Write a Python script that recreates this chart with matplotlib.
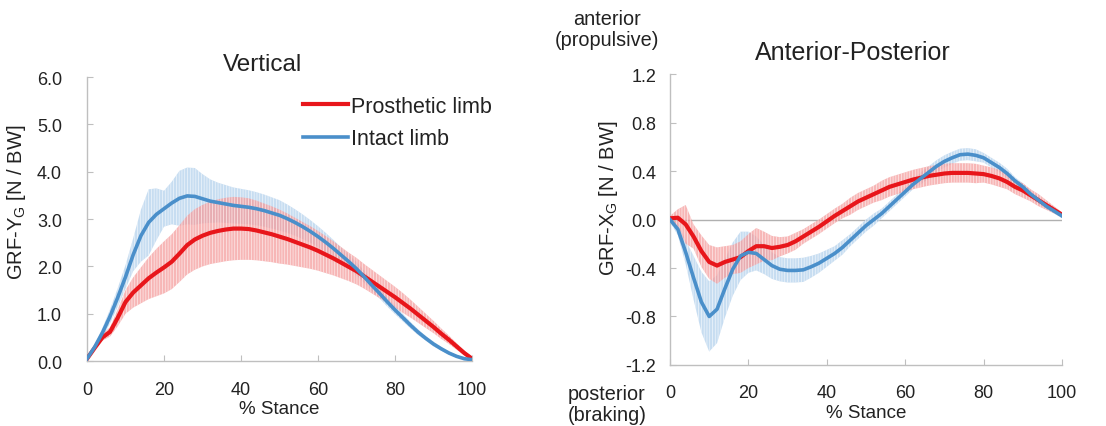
import numpy as np
import matplotlib
matplotlib.use("Agg")
import matplotlib.pyplot as plt

plt.rcParams['font.family'] = ['Liberation Sans', 'DejaVu Sans']
plt.rcParams['mathtext.default'] = 'regular'
plt.rcParams['axes.unicode_minus'] = False
plt.rcParams['hatch.color'] = 'white'
plt.rcParams['hatch.linewidth'] = 0.5

# % stance, every 2 %
stance = list(range(0, 101, 2))

# vertical GRF [N/BW]
vert_pros = [0.05, 0.28, 0.50, 0.62, 0.92, 1.25, 1.45, 1.60, 1.75, 1.87, 1.98, 2.10, 2.27, 2.45, 2.57, 2.65,
             2.71, 2.75, 2.78, 2.80, 2.80, 2.79, 2.76, 2.72, 2.68, 2.63, 2.58, 2.52, 2.46, 2.40, 2.33, 2.25,
             2.17, 2.08, 1.99, 1.90, 1.79, 1.68, 1.57, 1.46, 1.35, 1.23, 1.11, 0.98, 0.85, 0.72, 0.58, 0.45,
             0.31, 0.17, 0.05]
vert_pros_sd = [0.02, 0.04, 0.07, 0.10, 0.18, 0.25, 0.32, 0.38, 0.44, 0.50, 0.55, 0.58, 0.60, 0.62, 0.64, 0.65,
                0.66, 0.67, 0.67, 0.67, 0.66, 0.65, 0.63, 0.61, 0.59, 0.57, 0.54, 0.51, 0.48, 0.45, 0.42, 0.39,
                0.36, 0.33, 0.30, 0.28, 0.26, 0.25, 0.24, 0.23, 0.22, 0.21, 0.19, 0.17, 0.15, 0.13, 0.11, 0.09,
                0.07, 0.05, 0.03]
vert_int = [0.05, 0.30, 0.60, 0.95, 1.35, 1.78, 2.25, 2.65, 2.93, 3.10, 3.22, 3.34, 3.44, 3.49, 3.48, 3.43,
            3.38, 3.35, 3.32, 3.29, 3.27, 3.25, 3.22, 3.18, 3.13, 3.08, 3.01, 2.93, 2.84, 2.74, 2.63, 2.51,
            2.38, 2.24, 2.10, 1.95, 1.78, 1.60, 1.43, 1.25, 1.08, 0.92, 0.76, 0.61, 0.48, 0.36, 0.26, 0.17,
            0.10, 0.05, 0.03]
vert_int_sd = [0.02, 0.05, 0.10, 0.15, 0.20, 0.25, 0.35, 0.55, 0.70, 0.55, 0.38, 0.45, 0.58, 0.60, 0.60, 0.52,
               0.46, 0.42, 0.40, 0.38, 0.37, 0.36, 0.35, 0.34, 0.33, 0.32, 0.30, 0.28, 0.26, 0.24, 0.22, 0.20,
               0.18, 0.16, 0.15, 0.14, 0.13, 0.12, 0.11, 0.10, 0.09, 0.08, 0.07, 0.06, 0.05, 0.05, 0.04, 0.03,
               0.03, 0.02, 0.02]

# anterior-posterior GRF [N/BW]
ap_pros = [0.01, 0.015, -0.04, -0.14, -0.26, -0.35, -0.38, -0.35, -0.33, -0.31, -0.26, -0.22, -0.22, -0.235,
           -0.225, -0.21, -0.18, -0.14, -0.10, -0.06, -0.015, 0.03, 0.07, 0.11, 0.15, 0.18, 0.21, 0.24, 0.27,
           0.29, 0.31, 0.33, 0.345, 0.36, 0.37, 0.38, 0.385, 0.385, 0.385, 0.38, 0.375, 0.36, 0.34, 0.31,
           0.27, 0.24, 0.20, 0.16, 0.12, 0.08, 0.04]
ap_pros_sd = [0.02, 0.07, 0.16, 0.10, 0.13, 0.14, 0.15, 0.13, 0.12, 0.13, 0.14, 0.15, 0.12, 0.10, 0.08, 0.07,
              0.07, 0.06, 0.06, 0.06, 0.06, 0.06, 0.06, 0.07, 0.07, 0.07, 0.07, 0.08, 0.08, 0.08, 0.08, 0.08,
              0.08, 0.08, 0.08, 0.08, 0.08, 0.08, 0.08, 0.08, 0.07, 0.07, 0.07, 0.06, 0.06, 0.06, 0.05, 0.05,
              0.04, 0.03, 0.02]
ap_int = [0.0, -0.08, -0.27, -0.48, -0.68, -0.80, -0.74, -0.57, -0.41, -0.30, -0.27, -0.28, -0.33, -0.38,
          -0.41, -0.42, -0.42, -0.415, -0.39, -0.36, -0.32, -0.28, -0.23, -0.17, -0.11, -0.05, 0.0, 0.05,
          0.11, 0.17, 0.23, 0.29, 0.34, 0.39, 0.44, 0.48, 0.51, 0.535, 0.54, 0.53, 0.51, 0.47, 0.43, 0.38,
          0.32, 0.27, 0.21, 0.16, 0.11, 0.07, 0.03]
ap_int_sd = [0.02, 0.05, 0.10, 0.18, 0.25, 0.29, 0.28, 0.24, 0.22, 0.20, 0.17, 0.14, 0.12, 0.11, 0.10, 0.10,
             0.10, 0.10, 0.09, 0.08, 0.07, 0.06, 0.06, 0.05, 0.05, 0.05, 0.05, 0.04, 0.04, 0.04, 0.04, 0.04,
             0.05, 0.05, 0.05, 0.05, 0.05, 0.05, 0.05, 0.05, 0.04, 0.04, 0.04, 0.04, 0.03, 0.03, 0.03, 0.03,
             0.02, 0.02, 0.02]

RED = '#e8161b'
BLUE = '#4a8fca'
RED_BAND = '#f49a9a'
BLUE_BAND = '#b2d0ec'
GRID = '#bfbfbf'
TXT = '#222222'

fig = plt.figure(figsize=(11.06, 4.27), dpi=100)
ax1 = fig.add_axes([0.0787, 0.152, 0.3481, 0.665])
ax2 = fig.add_axes([0.6058, 0.143, 0.3544, 0.681])


def band(ax, m, sd, col):
    m = np.array(m)
    sd = np.array(sd)
    ax.fill_between(stance, m - sd, m + sd, facecolor=col, edgecolor='white',
                    hatch='||||||', linewidth=0, alpha=0.72, zorder=1)


def style(ax, ypad):
    for s in ['top', 'right']:
        ax.spines[s].set_visible(False)
    for s in ['left', 'bottom']:
        ax.spines[s].set_color(GRID)
        ax.spines[s].set_linewidth(1.0)
    ax.tick_params(direction='in', color=GRID, length=4, labelsize=13, labelcolor=TXT)
    ax.tick_params(axis='y', pad=ypad)
    ax.tick_params(axis='x', pad=14)
    ax.set_xlim(0, 100)
    ax.set_xticks(range(0, 101, 20))
    ax.set_xlabel('% Stance', fontsize=13.5, color=TXT, labelpad=2)


# vertical
band(ax1, vert_int, vert_int_sd, BLUE_BAND)
band(ax1, vert_pros, vert_pros_sd, RED_BAND)
ax1.plot(stance, vert_pros, color=RED, lw=3, label='Prosthetic limb', zorder=3)
ax1.plot(stance, vert_int, color=BLUE, lw=2.6, label='Intact limb', zorder=4)
ax1.set_ylim(0, 6)
ax1.set_yticks(np.arange(0, 6.01, 1.0))
ax1.yaxis.set_major_formatter(matplotlib.ticker.FormatStrFormatter('%.1f'))
style(ax1, 18)
ax1.set_ylabel('GRF-Y$_G$ [N / BW]', fontsize=14.5, color=TXT)
ax1.yaxis.set_label_coords(-0.153, 0.563)
ax1.legend(loc='upper left', bbox_to_anchor=(0.56, 0.935), frameon=False, fontsize=15.5,
           handlelength=2.1, handletextpad=0.15, labelspacing=0.55, borderpad=0, borderaxespad=0,
           labelcolor=TXT)

# anterior-posterior
ax2.axhline(0, color='#b0b0b0', lw=1.0, zorder=0)
band(ax2, ap_int, ap_int_sd, BLUE_BAND)
band(ax2, ap_pros, ap_pros_sd, RED_BAND)
ax2.plot(stance, ap_pros, color=RED, lw=3, zorder=3)
ax2.plot(stance, ap_int, color=BLUE, lw=2.6, zorder=4)
ax2.set_ylim(-1.2, 1.2)
ax2.set_yticks(np.arange(-1.2, 1.21, 0.4))
ax2.yaxis.set_major_formatter(matplotlib.ticker.FormatStrFormatter('%.1f'))
style(ax2, 10)
ax2.set_ylabel('GRF-X$_G$ [N / BW]', fontsize=14.5, color=TXT)
ax2.yaxis.set_label_coords(-0.127, 0.577)

fig.text(263 / 1106, 1 - 65 / 427, 'Vertical', fontsize=17.5, color=TXT, ha='center', va='center')
fig.text(853 / 1106, 1 - 53 / 427, 'Anterior-Posterior', fontsize=18, color=TXT, ha='center', va='center')
fig.text(607 / 1106, 1 - 30 / 427, 'anterior\n(propulsive)', fontsize=14.3, color=TXT,
         ha='center', va='center', linespacing=1.1)
fig.text(607 / 1106, 1 - 405 / 427, 'posterior\n(braking)', fontsize=14.3, color=TXT,
         ha='center', va='center', linespacing=1.1)

fig.savefig('out.png', dpi=100)
